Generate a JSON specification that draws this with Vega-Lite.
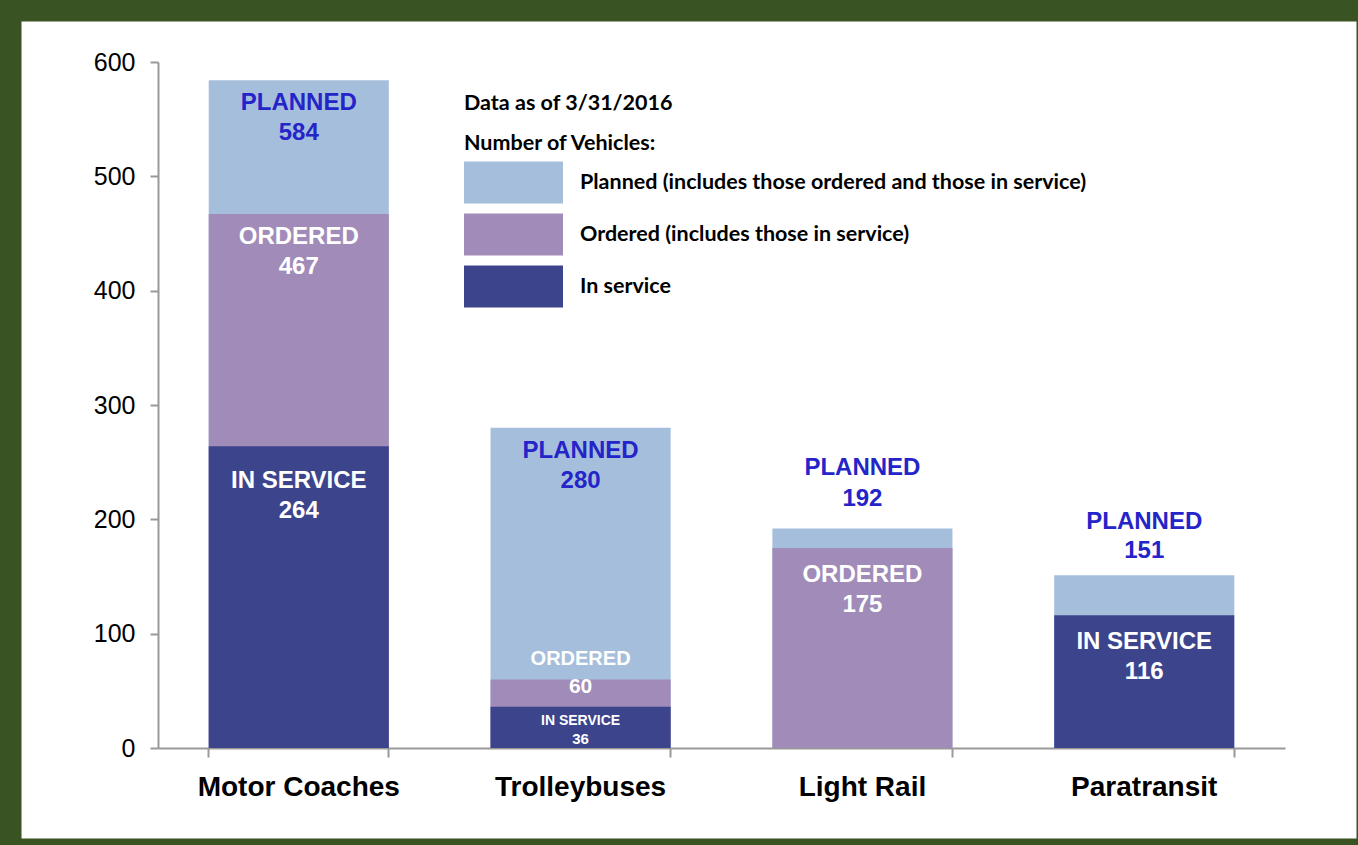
{
  "$schema": "https://vega.github.io/schema/vega-lite/v6.json",
  "autosize": "none",
  "width": 1338,
  "height": 820,
  "padding": {"left": 20, "top": 20, "right": 0, "bottom": 5},
  "background": "#3A5323",
  "config": {
    "view": {"fill": "white", "stroke": "#3A5323", "strokeWidth": 3},
    "font": "Liberation Sans"
  },
  "data": {
    "values": [
      {"category": "Motor Coaches", "series": "Planned (includes those ordered and those in service)", "label": "PLANNED", "vehicles": 584},
      {"category": "Trolleybuses", "series": "Planned (includes those ordered and those in service)", "label": "PLANNED", "vehicles": 280},
      {"category": "Light Rail", "series": "Planned (includes those ordered and those in service)", "label": "PLANNED", "vehicles": 192},
      {"category": "Paratransit", "series": "Planned (includes those ordered and those in service)", "label": "PLANNED", "vehicles": 151},
      {"category": "Motor Coaches", "series": "Ordered (includes those in service)", "label": "ORDERED", "vehicles": 467},
      {"category": "Trolleybuses", "series": "Ordered (includes those in service)", "label": "ORDERED", "vehicles": 60},
      {"category": "Light Rail", "series": "Ordered (includes those in service)", "label": "ORDERED", "vehicles": 175},
      {"category": "Motor Coaches", "series": "In service", "label": "IN SERVICE", "vehicles": 264},
      {"category": "Trolleybuses", "series": "In service", "label": "IN SERVICE", "vehicles": 36},
      {"category": "Paratransit", "series": "In service", "label": "IN SERVICE", "vehicles": 116}
    ]
  },
  "encoding": {
    "x": {
      "field": "category",
      "type": "nominal",
      "sort": ["Motor Coaches", "Trolleybuses", "Light Rail", "Paratransit"],
      "scale": {"range": [138, 1265], "paddingInner": 0.361, "paddingOuter": 0.18},
      "axis": {
        "title": null,
        "orient": "bottom",
        "offset": -92,
        "labelAngle": 0,
        "labelFont": "Liberation Sans",
        "labelFontSize": 28,
        "labelFontWeight": "bold",
        "labelColor": "black",
        "labelPadding": 16,
        "labelLimit": 400,
        "domainColor": "#999999",
        "domainWidth": 2,
        "tickColor": "#999999",
        "tickWidth": 2,
        "tickSize": 9,
        "bandPosition": 1,
        "tickExtra": true,
        "grid": false
      }
    },
    "y": {
      "field": "vehicles",
      "type": "quantitative",
      "stack": null,
      "scale": {"domain": [0, 600], "range": [728, 42], "nice": false},
      "axis": {
        "title": null,
        "orient": "left",
        "offset": -138,
        "values": [0, 100, 200, 300, 400, 500, 600],
        "labelFont": "Liberation Sans",
        "labelFontSize": 25,
        "labelColor": "black",
        "labelPadding": 15,
        "domainColor": "#999999",
        "domainWidth": 2,
        "tickColor": "#999999",
        "tickWidth": 2,
        "tickSize": 8,
        "grid": false
      }
    }
  },
  "layer": [
    {
      "mark": {"type": "bar"},
      "encoding": {
        "color": {
          "field": "series",
          "type": "nominal",
          "scale": {
            "domain": ["Planned (includes those ordered and those in service)", "Ordered (includes those in service)", "In service"],
            "range": ["#A4BEDC", "#A18BB8", "#3C448C"]
          },
          "legend": {
            "orient": "none",
            "legendX": 444,
            "legendY": 73,
            "padding": 0,
            "title": ["Data as of 3/31/2016", "Number of Vehicles:"],
            "titleFont": "Lato",
            "titleFontSize": 21.5,
            "titleFontWeight": "bold",
            "titleColor": "black",
            "titleLineHeight": 40,
            "titlePadding": 7,
            "titleLimit": 600,
            "labelFont": "Lato",
            "labelFontSize": 21.5,
            "labelFontWeight": "bold",
            "labelColor": "black",
            "labelLimit": 700,
            "labelOffset": 74,
            "symbolType": "M-1,-1H3.714V1H-1Z",
            "symbolSize": 1764,
            "symbolStrokeWidth": 0,
            "symbolOpacity": 1,
            "rowPadding": 10
          }
        }
      }
    },
    {
      "transform": [{"filter": "(datum.category === 'Motor Coaches' && datum.label !== 'IN SERVICE') || (datum.category === 'Trolleybuses' && datum.label === 'PLANNED')"}],
      "mark": {"type": "text", "baseline": "middle", "fontSize": 24, "fontWeight": "bold", "dy": 23},
      "encoding": {"text": {"field": "label"}, "color": {"condition": {"test": "datum.label === 'PLANNED'", "value": "#2424C8"}, "value": "white"}}
    },
    {
      "transform": [{"filter": "(datum.category === 'Motor Coaches' && datum.label !== 'IN SERVICE') || (datum.category === 'Trolleybuses' && datum.label === 'PLANNED')"}],
      "mark": {"type": "text", "baseline": "middle", "fontSize": 24, "fontWeight": "bold", "dy": 53},
      "encoding": {"text": {"field": "vehicles", "type": "quantitative"}, "color": {"condition": {"test": "datum.label === 'PLANNED'", "value": "#2424C8"}, "value": "white"}}
    },
    {
      "transform": [{"filter": "(datum.category === 'Light Rail' && datum.label === 'ORDERED') || (datum.category === 'Paratransit' && datum.label === 'IN SERVICE')"}],
      "mark": {"type": "text", "baseline": "middle", "fontSize": 24, "fontWeight": "bold", "dy": 27, "color": "white"},
      "encoding": {"text": {"field": "label"}}
    },
    {
      "transform": [{"filter": "(datum.category === 'Light Rail' && datum.label === 'ORDERED') || (datum.category === 'Paratransit' && datum.label === 'IN SERVICE')"}],
      "mark": {"type": "text", "baseline": "middle", "fontSize": 24, "fontWeight": "bold", "dy": 57, "color": "white"},
      "encoding": {"text": {"field": "vehicles", "type": "quantitative"}}
    },
    {
      "transform": [{"filter": "datum.category === 'Motor Coaches' && datum.label === 'IN SERVICE'"}],
      "mark": {"type": "text", "baseline": "middle", "fontSize": 24, "fontWeight": "bold", "dy": 35, "color": "white"},
      "encoding": {"text": {"field": "label"}}
    },
    {
      "transform": [{"filter": "datum.category === 'Motor Coaches' && datum.label === 'IN SERVICE'"}],
      "mark": {"type": "text", "baseline": "middle", "fontSize": 24, "fontWeight": "bold", "dy": 65, "color": "white"},
      "encoding": {"text": {"field": "vehicles", "type": "quantitative"}}
    },
    {
      "transform": [{"filter": "datum.category === 'Light Rail' && datum.label === 'PLANNED'"}],
      "mark": {"type": "text", "baseline": "middle", "fontSize": 24, "fontWeight": "bold", "dy": -60, "color": "#2424C8"},
      "encoding": {"text": {"field": "label"}}
    },
    {
      "transform": [{"filter": "datum.category === 'Light Rail' && datum.label === 'PLANNED'"}],
      "mark": {"type": "text", "baseline": "middle", "fontSize": 24, "fontWeight": "bold", "dy": -29, "color": "#2424C8"},
      "encoding": {"text": {"field": "vehicles", "type": "quantitative"}}
    },
    {
      "transform": [{"filter": "datum.category === 'Paratransit' && datum.label === 'PLANNED'"}],
      "mark": {"type": "text", "baseline": "middle", "fontSize": 24, "fontWeight": "bold", "dy": -53, "color": "#2424C8"},
      "encoding": {"text": {"field": "label"}}
    },
    {
      "transform": [{"filter": "datum.category === 'Paratransit' && datum.label === 'PLANNED'"}],
      "mark": {"type": "text", "baseline": "middle", "fontSize": 24, "fontWeight": "bold", "dy": -24, "color": "#2424C8"},
      "encoding": {"text": {"field": "vehicles", "type": "quantitative"}}
    },
    {
      "transform": [{"filter": "datum.category === 'Trolleybuses' && datum.label === 'ORDERED'"}],
      "mark": {"type": "text", "baseline": "middle", "fontSize": 20, "fontWeight": "bold", "dy": -20, "color": "white"},
      "encoding": {"text": {"field": "label"}}
    },
    {
      "transform": [{"filter": "datum.category === 'Trolleybuses' && datum.label === 'ORDERED'"}],
      "mark": {"type": "text", "baseline": "middle", "fontSize": 21, "fontWeight": "bold", "dy": 8, "color": "white"},
      "encoding": {"text": {"field": "vehicles", "type": "quantitative"}}
    },
    {
      "transform": [{"filter": "datum.category === 'Trolleybuses' && datum.label === 'IN SERVICE'"}],
      "mark": {"type": "text", "baseline": "middle", "fontSize": 14, "fontWeight": "bold", "dy": 14, "color": "white"},
      "encoding": {"text": {"field": "label"}}
    },
    {
      "transform": [{"filter": "datum.category === 'Trolleybuses' && datum.label === 'IN SERVICE'"}],
      "mark": {"type": "text", "baseline": "middle", "fontSize": 15, "fontWeight": "bold", "dy": 32, "color": "white"},
      "encoding": {"text": {"field": "vehicles", "type": "quantitative"}}
    }
  ]
}
